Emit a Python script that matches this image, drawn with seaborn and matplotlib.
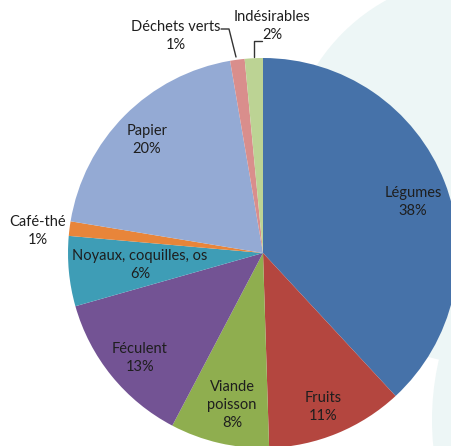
import matplotlib
matplotlib.use("Agg")
import matplotlib.pyplot as plt
import seaborn as sns
from matplotlib.patches import Circle

sns.set_theme(style="white")
plt.rcParams['font.family'] = ['Lato', 'DejaVu Sans']

# data (shares, labels as printed on the chart)
categories = ["Légumes", "Fruits", "Viande\npoisson", "Féculent",
              "Noyaux, coquilles, os", "Café-thé", "Papier",
              "Déchets verts", "Indésirables"]
shares = [38.1, 11.4, 8.2, 12.9, 5.8, 1.2, 19.7, 1.2, 1.5]
pct_labels = [38, 11, 8, 13, 6, 1, 20, 1, 2]
colors = ["#4672a9", "#b4463f", "#8fae4f", "#735394", "#3e9db6",
          "#e8853a", "#94aad4", "#d98e8c", "#bcd394"]

# label placement (pixel coords of the 451x446 canvas, top-left origin)
label_pos = [(413, 202), (323, 407), (232, 405), (140, 358), (140, 265),
             (38, 231), (147, 140), (176, 36), (272, 26)]

W, H = 451, 446
fig = plt.figure(figsize=(W / 100, H / 100), dpi=100)
ax = fig.add_axes([0, 0, 1, 1])

# faint decorative background shapes
pale = "#edf6f6"
ax.add_patch(Circle((480, H - 170), 194, color=pale, zorder=0, lw=0))
ax.add_patch(Circle((700, H - 420), 268, color=pale, zorder=0, lw=0))

ax.pie(shares, colors=colors, startangle=90, counterclock=False,
       center=(263, H - 253), radius=195, frame=True,
       wedgeprops=dict(linewidth=0))
ax.set_xlim(0, W)
ax.set_ylim(0, H)
ax.set_aspect("equal")
ax.axis("off")

for name, p, (x, y) in zip(categories, pct_labels, label_pos):
    ax.text(x, H - y, f"{name}\n{p}%", ha="center", va="center",
            fontsize=10.5, color="#1e1e1e", linespacing=1.35, zorder=5)

# leader lines for the two thin slices
ax.plot([254, 254, 262], [H - 57, H - 41, H - 41], color="#333333", lw=1, zorder=4)
ax.plot([221, 229, 236], [H - 29, H - 29, H - 57], color="#333333", lw=1, zorder=4)

fig.savefig("out.png", dpi=100)
